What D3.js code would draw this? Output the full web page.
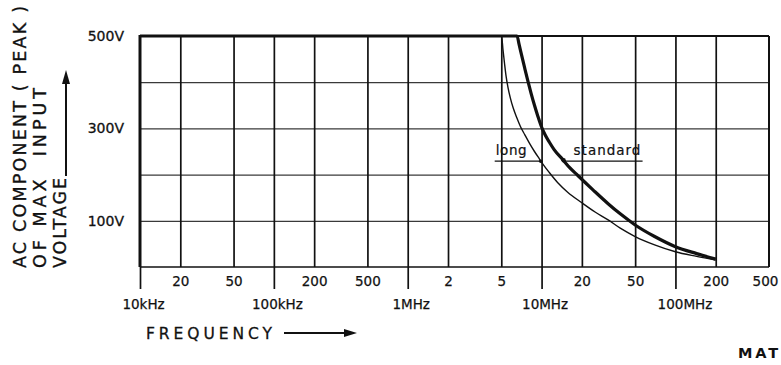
<!DOCTYPE html>
<html>
<head>
<meta charset="utf-8">
<script src="https://cdn.jsdelivr.net/npm/d3@7"></script>
<style>
  html, body { margin: 0; padding: 0; background: #fff; }
  svg { display: block; }
  text { font-family: "DejaVu Sans", sans-serif; fill: #111; }
</style>
</head>
<body>
<svg id="chart" width="781" height="365"></svg>
<script>
// ---------- data ----------
const gridFreqs = [2e4, 5e4, 1e5, 2e5, 5e5, 1e6, 2e6, 5e6, 1e7, 2e7, 5e7, 1e8, 2e8];
const subTickFreqs = [2e4, 5e4, 2e5, 5e5, 2e6, 5e6, 2e7, 5e7, 2e8, 5e8];
const subTickLabels = ["20", "50", "200", "500", "2", "5", "20", "50", "200", "500"];
const decadeFreqs = [1e4, 1e5, 1e6, 1e7, 1e8];
const decadeLabels = ["10kHz", "100kHz", "1MHz", "10MHz", "100MHz"];
const voltGrid = [100, 200, 300, 400];
const voltTicks = [100, 300, 500];
const voltLabels = ["100V", "300V", "500V"];

// frequencies in MHz, voltages in V (peak)
const standardFreq = [0.01, 6.56, 6.78, 7.07, 7.46, 7.88, 8.35, 8.85, 9.39, 10, 10.67, 11.44, 12.41,
  14.35, 16.22, 18.65, 24.2, 31.4, 38.7, 50, 69.9, 100, 144, 200];
const standardVolt = [500, 500, 483, 460, 432, 404, 376, 350, 326, 303, 285, 270, 254,
  233, 215, 198, 167, 137, 115, 91, 66, 44, 29, 17];
const longFreq = [0.01, 5.02, 5.15, 5.28, 5.43, 5.60, 5.84, 6.14, 6.51, 6.95, 7.50, 8.15, 8.85, 9.58,
  10.39, 11.38, 13.16, 15.66, 20, 25.1, 31.4, 38.7, 50, 69.9, 100, 144, 200];
const longVolt = [500, 500, 470, 442, 413, 390, 366, 344, 324, 304, 286, 267, 250, 235,
  220, 205, 183, 162, 139, 119, 102, 84, 66, 48, 33, 23, 15];

const seriesNames = ["long", "standard"];
const labelVolt = 229;           // level of the label underlines
const longLabelFreq = 9.85;      // where the "long" pointer meets its curve (MHz)
const standardLabelFreq = 14.6;  // where the "standard" pointer meets its curve (MHz)

// ---------- layout ----------
const svg = d3.select("#chart");
const x = d3.scaleLog().domain([1e4, 5e8]).range([140, 769]);
const y = d3.scaleLinear().domain([0, 500]).range([267, 36]);
const [x0, x1] = x.range();
const [yb, yt] = y.range();
const MHz = 1e6;

// horizontal grid
const hg = svg.append("g").attr("transform", `translate(${x0},0)`)
  .call(d3.axisLeft(y).tickValues(voltGrid).tickSize(-(x1 - x0)).tickFormat(""));
hg.select(".domain").remove();
hg.selectAll("line").attr("stroke", "#3a3a3a").attr("stroke-width", 1.2);

// vertical grid
const vg = svg.append("g").attr("transform", `translate(0,${yb})`)
  .call(d3.axisBottom(x).tickValues(gridFreqs).tickSize(-(yb - yt)).tickFormat(""));
vg.select(".domain").remove();
vg.selectAll("line").attr("stroke", "#111").attr("stroke-width", 1.7);

// frame
const frame = svg.append("g").attr("stroke", "#111").attr("fill", "none");
frame.append("line").attr("x1", x0).attr("x2", x1).attr("y1", yt).attr("y2", yt).attr("stroke-width", 2);
frame.append("line").attr("x1", x0).attr("x2", x1).attr("y1", yb).attr("y2", yb).attr("stroke-width", 1.6);
frame.append("line").attr("x1", x1).attr("x2", x1).attr("y1", yt).attr("y2", yb).attr("stroke-width", 2);
frame.append("line").attr("x1", x0).attr("x2", x0).attr("y1", yt - 1).attr("y2", yb).attr("stroke-width", 3);

// sub tick labels
const subAx = svg.append("g").attr("transform", `translate(0,${yb})`)
  .call(d3.axisBottom(x).tickValues(subTickFreqs).tickSize(0).tickPadding(9)
    .tickFormat((d, i) => subTickLabels[i]));
subAx.select(".domain").remove();
subAx.selectAll("text").attr("font-size", 13.5).attr("font-family", "DejaVu Sans")
  .attr("fill", "#111").attr("stroke", "#111").attr("stroke-width", 0.25)
  .attr("dx", (d, i) => i === subTickFreqs.length - 1 ? -4 : 0);

// decade ticks + labels
const decAx = svg.append("g").attr("transform", `translate(0,${yb})`)
  .call(d3.axisBottom(x).tickValues(decadeFreqs).tickSize(22).tickPadding(10)
    .tickFormat((d, i) => decadeLabels[i]));
decAx.select(".domain").remove();
decAx.selectAll("line").attr("stroke", "#111").attr("stroke-width", 1.7);
decAx.selectAll("text").attr("font-size", 13.5).attr("font-family", "DejaVu Sans")
  .attr("fill", "#111").attr("stroke", "#111").attr("stroke-width", 0.25)
  .attr("dx", (d, i) => i === decadeFreqs.length - 1 ? 9 : 3);

// y tick labels
const yAx = svg.append("g").attr("transform", `translate(${x0},0)`)
  .call(d3.axisLeft(y).tickValues(voltTicks).tickSize(0).tickPadding(16)
    .tickFormat((d, i) => voltLabels[i]));
yAx.select(".domain").remove();
yAx.selectAll("text").attr("font-size", 14).attr("font-family", "DejaVu Sans")
  .attr("fill", "#111").attr("stroke", "#111").attr("stroke-width", 0.3);

// curves
const line = d3.line().x(d => x(d[0] * MHz)).y(d => y(d[1])).curve(d3.curveMonotoneX);
const stdData = standardFreq.map((f, i) => [f, standardVolt[i]]);
const longData = longFreq.map((f, i) => [f, longVolt[i]]);
svg.append("path").attr("d", line(longData)).attr("fill", "none")
  .attr("stroke", "#111").attr("stroke-width", 1.4);
svg.append("path").attr("d", line(stdData)).attr("fill", "none")
  .attr("stroke", "#111").attr("stroke-width", 3.2).attr("stroke-linejoin", "round");

// annotations (anchored on the curves in data space)
const annY = y(labelVolt);
const longAnchorX = x(longLabelFreq * MHz);
svg.append("line").attr("x1", longAnchorX - 46).attr("x2", longAnchorX).attr("y1", annY).attr("y2", annY)
  .attr("stroke", "#111").attr("stroke-width", 1.3);
svg.append("circle").attr("cx", longAnchorX).attr("cy", annY).attr("r", 1.8).attr("fill", "#111");
svg.append("text").attr("x", longAnchorX - 45).attr("y", annY - 6).attr("font-size", 13.5)
  .attr("letter-spacing", 0.6).attr("stroke", "#111").attr("stroke-width", 0.2).text(seriesNames[0]);
const stdAnchorX = x(standardLabelFreq * MHz);
svg.append("line").attr("x1", stdAnchorX).attr("x2", stdAnchorX + 79).attr("y1", annY).attr("y2", annY)
  .attr("stroke", "#111").attr("stroke-width", 1.3);
svg.append("circle").attr("cx", stdAnchorX).attr("cy", annY - 1).attr("r", 2.2).attr("fill", "#111");
svg.append("text").attr("x", stdAnchorX + 10).attr("y", annY - 6).attr("font-size", 13.5)
  .attr("letter-spacing", 1).attr("stroke", "#111").attr("stroke-width", 0.2).text(seriesNames[1]);

// y axis title (rotated, three lines)
const yTitle = ["AC COMPONENT ( PEAK )", "OF MAX  INPUT", "VOLTAGE"];
const yTitleX = [20, 40, 60];
const yTitleLen = [262, 180, 90];
yTitle.forEach((t, i) => {
  svg.append("text")
    .attr("transform", `translate(${yTitleX[i]},268) rotate(-90)`)
    .attr("x", 0).attr("y", 0).attr("dy", "0.37em")
    .attr("font-size", 17.5)
    .attr("stroke", "#111").attr("stroke-width", 0.35)
    .attr("textLength", yTitleLen[i]).attr("lengthAdjust", "spacing")
    .style("white-space", "pre")
    .text(t);
});
// y arrow
svg.append("line").attr("x1", 66).attr("x2", 66).attr("y1", 176).attr("y2", 82)
  .attr("stroke", "#111").attr("stroke-width", 2);
svg.append("path").attr("d", "M66,70 L62,84 L70,84 Z").attr("fill", "#111");

// x axis title
svg.append("text").attr("x", 146).attr("y", 338.5).attr("font-size", 15.5)
  .attr("stroke", "#111").attr("stroke-width", 0.3)
  .attr("textLength", 126).attr("lengthAdjust", "spacing").text("FREQUENCY");
svg.append("line").attr("x1", 284).attr("x2", 346).attr("y1", 333).attr("y2", 333)
  .attr("stroke", "#111").attr("stroke-width", 2);
svg.append("path").attr("d", "M357,333 L344,329 L344,337 Z").attr("fill", "#111");

// corner mark
svg.append("text").attr("x", 738).attr("y", 357.5).attr("font-size", 14.5).attr("font-weight", "bold")
  .attr("letter-spacing", 2.8).text("MAT");
</script>
</body>
</html>
